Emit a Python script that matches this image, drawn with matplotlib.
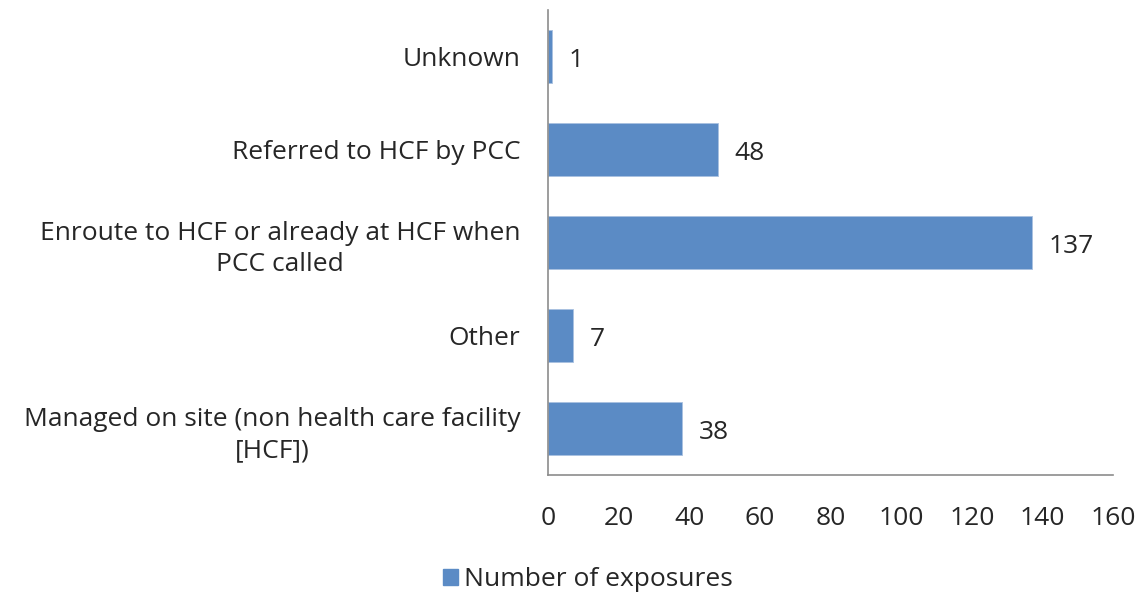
import matplotlib
matplotlib.use("Agg")
import matplotlib.pyplot as plt
from matplotlib.patches import Patch

categories = [
    "Managed on site (non health care facility\n[HCF])",
    "Other",
    "Enroute to HCF or already at HCF when\nPCC called",
    "Referred to HCF by PCC",
    "Unknown",
]
values = [38, 7, 137, 48, 1]
xticks = [0, 20, 40, 60, 80, 100, 120, 140, 160]
series_name = "Number of exposures"

plt.rcParams['font.family'] = ['Open Sans', 'DejaVu Sans']
bar_color = "#5B8BC5"
axis_color = "#8C8C8C"
text_color = "#262626"
fs = 19

fig = plt.figure(figsize=(11.43, 5.96), dpi=100)
ax = fig.add_axes([548/1143, 1-475/596, (1113-548)/1143, (475-10)/596])

ypos = list(range(len(categories)))
bars = ax.barh(ypos, values, height=0.56, color=bar_color, edgecolor="#A9C1E0", linewidth=0.6)
ax.set_xlim(0, 160)
ax.set_ylim(-0.5, len(categories) - 0.5)
ax.set_xticks(xticks)
ax.set_xticklabels([str(t) for t in xticks])
ax.set_yticks(ypos)
ax.set_yticklabels(categories, multialignment='center', linespacing=1.35)

for s in ['top', 'right']:
    ax.spines[s].set_visible(False)
for s in ['left', 'bottom']:
    ax.spines[s].set_color(axis_color)
    ax.spines[s].set_linewidth(1.2)

ax.tick_params(axis='x', length=0, pad=22, labelsize=fs, labelcolor=text_color)
ax.tick_params(axis='y', length=0, pad=20, labelsize=fs, labelcolor=text_color)

for b, v in zip(bars, values):
    ax.annotate(str(v), xy=(b.get_width(), b.get_y() + b.get_height() / 2),
                xytext=(12, -3), textcoords='offset points', va='center', ha='left',
                fontsize=fs, color=text_color)

handle = Patch(facecolor=bar_color, edgecolor=bar_color)
fig.legend([handle], [series_name], loc='center', bbox_to_anchor=(588/1143, 1-580/596),
           frameon=False, fontsize=fs, handlelength=0.55, handleheight=0.55,
           handletextpad=0.25, labelcolor=text_color)

fig.savefig("out.png", dpi=100)
